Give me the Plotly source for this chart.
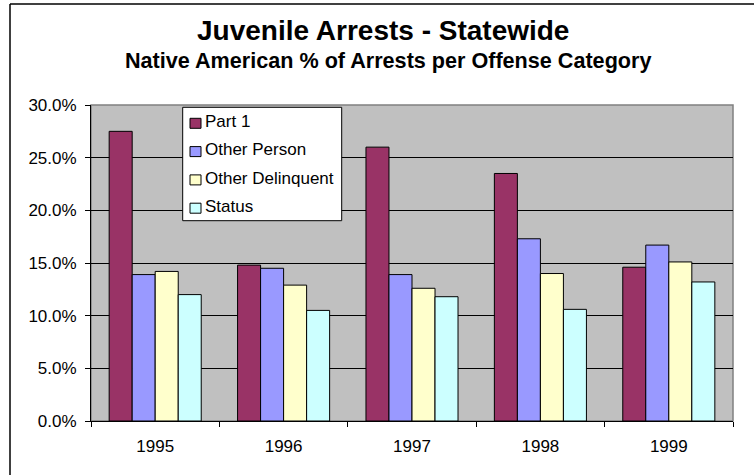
import plotly.graph_objects as go

# Data: Native American share of juvenile arrests (%) by offense category
years = ["1995", "1996", "1997", "1998", "1999"]
part1 = [27.5, 14.8, 26.0, 23.5, 14.6]
other_person = [13.9, 14.5, 13.9, 17.3, 16.7]
other_delinquent = [14.2, 12.9, 12.6, 14.0, 15.1]
status = [12.0, 10.5, 11.8, 10.6, 13.2]

series_names = ["Part 1", "Other Person", "Other Delinquent", "Status"]
series_values = [part1, other_person, other_delinquent, status]
series_colors = ["#993366", "#9999FF", "#FFFFCC", "#CCFFFF"]

y_ticks = [0, 5, 10, 15, 20, 25, 30]
y_tick_labels = [f"{v:.1f}%" for v in y_ticks]

W, H = 754, 475
ML, MR, MT, MB = 91, 21, 105, 54
PW, PH = W - ML - MR, H - MT - MB
FONT = "Liberation Sans, Arial, sans-serif"


def px_x(px):
    return (px - ML) / PW


def px_y(py):
    return (H - MB - py) / PH


fig = go.Figure()
for name, vals, color in zip(series_names, series_values, series_colors):
    fig.add_trace(go.Bar(
        x=years, y=vals, name=name,
        marker=dict(color=color, line=dict(color="black", width=1)),
        showlegend=False,
    ))

shapes = [
    # plot-area frame (grey on the open sides)
    dict(type="rect", xref="paper", yref="paper", x0=0, x1=1, y0=0, y1=1,
         line=dict(color="#808080", width=1.5), layer="below"),
    # outer chart border: top and left edges
    dict(type="line", xref="paper", yref="paper",
         x0=px_x(10), x1=px_x(W), y0=px_y(4), y1=px_y(4),
         line=dict(color="black", width=1.5)),
    dict(type="line", xref="paper", yref="paper",
         x0=px_x(10), x1=px_x(10), y0=px_y(4), y1=px_y(H),
         line=dict(color="black", width=1.5)),
    # legend box
    dict(type="rect", xref="paper", yref="paper",
         x0=px_x(182.7), x1=px_x(341.7), y0=px_y(220.7), y1=px_y(107.3),
         fillcolor="white", line=dict(color="black", width=1)),
]

annotations = [
    dict(text="<b>Juvenile Arrests - Statewide</b>", xref="paper", yref="paper",
         x=px_x(383), y=px_y(30), xanchor="center", yanchor="middle",
         showarrow=False, font=dict(family=FONT, size=28, color="black")),
    dict(text="<b>Native American % of Arrests per Offense Category</b>",
         xref="paper", yref="paper",
         x=px_x(387.5), y=px_y(61), xanchor="center", yanchor="middle",
         showarrow=False, font=dict(family=FONT, size=21.6, color="black")),
]

row_step = 28.3
for i, (name, color) in enumerate(zip(series_names, series_colors)):
    top = 118.3 + row_step * i
    shapes.append(dict(type="rect", xref="paper", yref="paper",
                       x0=px_x(190), x1=px_x(201), y0=px_y(top + 10), y1=px_y(top),
                       fillcolor=color, line=dict(color="black", width=1)))
    annotations.append(dict(text=name, xref="paper", yref="paper",
                            x=px_x(203), y=px_y(121.5 + row_step * i),
                            xanchor="left", yanchor="middle", showarrow=False,
                            font=dict(family=FONT, size=17, color="black")))

fig.update_layout(
    width=W, height=H,
    margin=dict(l=ML, r=MR, t=MT, b=MB, pad=0),
    paper_bgcolor="white", plot_bgcolor="#C0C0C0",
    barmode="group", bargap=0.283, bargroupgap=0,
    font=dict(family=FONT, size=17, color="black"),
    shapes=shapes, annotations=annotations,
    showlegend=False,
)
fig.update_xaxes(
    type="category", tickson="boundaries", ticks="outside", ticklen=5,
    tickcolor="black", showline=True, linecolor="black", linewidth=1,
    showgrid=False, tickfont=dict(size=17), ticklabelstandoff=10,
)
fig.update_yaxes(
    range=[0, 30], tickmode="array", tickvals=y_ticks, ticktext=y_tick_labels,
    ticks="outside", ticklen=5, tickcolor="black",
    showline=True, linecolor="black", linewidth=1,
    showgrid=True, gridcolor="black", gridwidth=1, zeroline=False,
    tickfont=dict(size=17), ticklabelstandoff=5,
)

fig.write_html("out.html")
